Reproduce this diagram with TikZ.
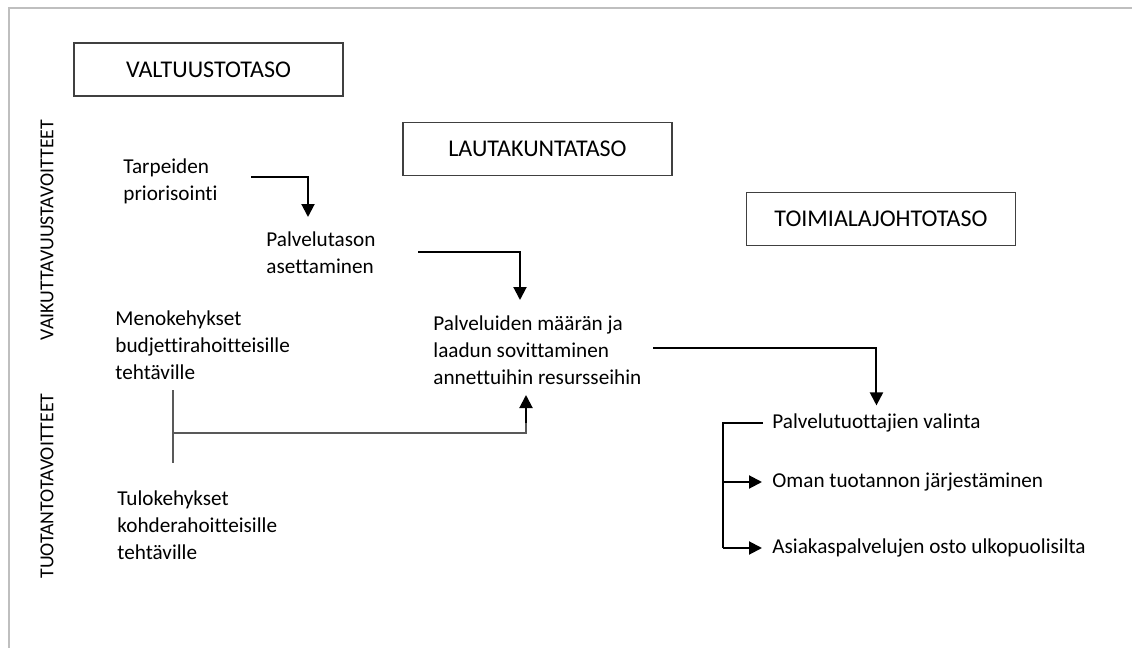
\documentclass[tikz,border=0pt]{standalone}
\usepackage{fontspec}
\setmainfont{Carlito}[Ligatures=NoCommon]
\usepackage{tikz}
\usetikzlibrary{arrows.meta}

\begin{document}
\begin{tikzpicture}[x=0.5pt,y=-0.5pt,
    level/.style={draw=black!75,line width=0.8pt,minimum width=134.5pt,minimum height=26.5pt,font=\fontsize{12}{14}\selectfont},
    txt/.style={anchor=west,align=left,inner sep=0pt,font=\fontsize{10.6}{13.5}\selectfont},
    side/.style={rotate=90,inner sep=0pt,font=\fontsize{9.9}{11}\selectfont},
    arr/.style={line width=1pt,-{Triangle[length=6.5pt,width=6.5pt]}},
    bar/.style={line width=1pt,draw=black!65}]
             \useasboundingbox (0,0) rectangle (1132,648);
             \draw[black!25,line width=1pt] (9,648) -- (9,8) -- (1132,8);

             % tasot
             \node[level] (valt) at (208.5,69.5) {VALTUUSTOTASO};
             \node[level] (laut) at (537.5,149) {LAUTAKUNTATASO};
             \node[level] (toim) at (881,219) {TOIMIALAJOHTOTASO};

             \node[side] (vaik) at (47,230) {VAIKUTTAVUUSTAVOITTEET};
             \node[side] (tuot) at (47,486) {TUOTANTOTAVOITTEET};

             \node[txt] (tarp) at (123,181) {Tarpeiden\\priorisointi};
             \node[txt] (palv) at (266,253) {Palvelutason\\asettaminen};
             \node[txt] (sovi) at (433,350) {Palveluiden määrän ja\\laadun sovittaminen\\annettuihin resursseihin};
             \node[txt] (meno) at (115,345) {Menokehykset\\budjettirahoitteisille\\tehtäville};
             \node[txt] (tulo) at (117,525) {Tulokehykset\\kohderahoitteisille\\tehtäville};

             \node[txt] (valinta) at (772,423) {Palvelutuottajien valinta};
             \node[txt] (oma) at (772,482) {Oman tuotannon järjestäminen};
             \node[txt] (osto) at (772,548) {Asiakaspalvelujen osto ulkopuolisilta};

             % nuolet
             \coordinate (t1) at (251,177);
             \coordinate (t2) at (308,217);
             \draw[arr] (t1) -| (t2);
             \coordinate (p1) at (418,252);
             \coordinate (p2) at (520,300);
             \draw[arr] (p1) -| (p2);
             \coordinate (v1) at (653,348);
             \draw[arr] (v1) -| ([yshift=4pt]valinta.north);

             \coordinate (b1) at (173,390);
             \coordinate (b2) at (173,463);
             \coordinate (j1) at (173,433);
             \coordinate (s1) at (526,395);
             \draw[bar] (b1) -- (b2);
             \draw[bar] (j1) -| (526,420);
             \draw[arr] (j1 -| s1) ++(0,-10) -- (s1);

             \coordinate (r2) at (723,482);
             \coordinate (r3) at (723,548);
             \draw[line width=1pt] ([xshift=-4.5pt]valinta.west) -| (r3);
             \draw[arr,shorten >=5pt] (r2) -- (oma.west);
             \draw[arr,shorten >=5pt] (r3) -- (osto.west);
\end{tikzpicture}
\end{document}
